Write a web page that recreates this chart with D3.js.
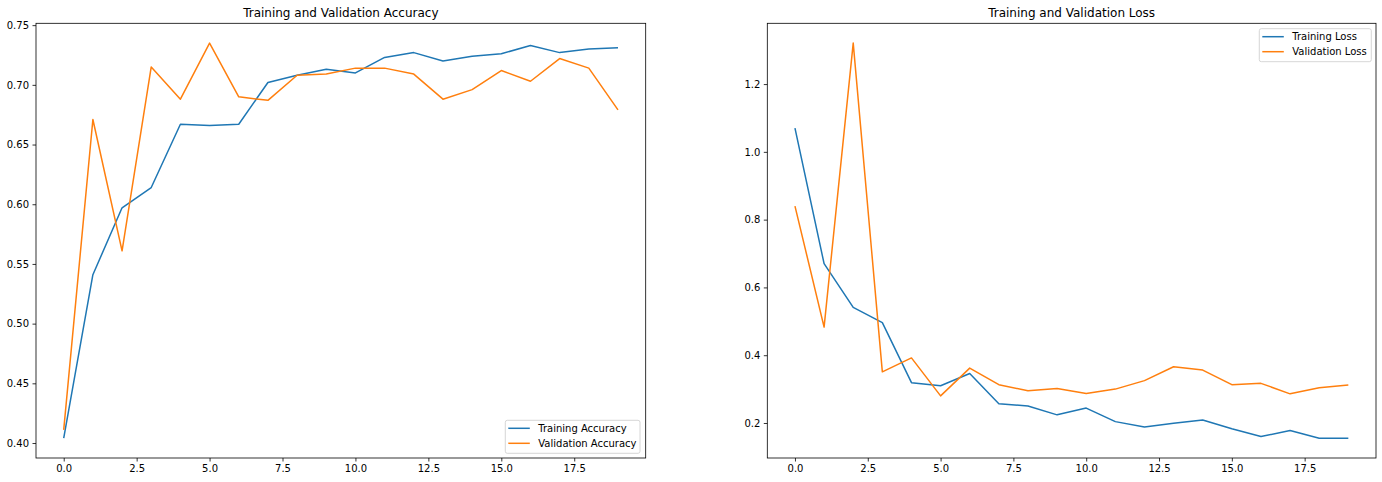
<!DOCTYPE html>
<html><head><meta charset="utf-8">
<script src="https://cdn.jsdelivr.net/npm/d3@7"></script>
<style>body{margin:0;background:#fff;}svg{display:block;font-family:"DejaVu Sans",sans-serif;}</style>
</head><body><svg id="c" width="1382" height="482"></svg>
<script>
const epochs = d3.range(20);
const trainAcc = [0.404,0.541,0.597,0.614,0.667,0.666,0.667,0.702,0.708,0.713,0.710,0.723,0.727,0.720,0.724,0.726,0.733,0.727,0.730,0.731];
const valAcc = [0.411,0.671,0.561,0.715,0.688,0.735,0.690,0.687,0.708,0.709,0.714,0.714,0.709,0.688,0.696,0.712,0.703,0.722,0.714,0.679];
const trainLoss = [1.070,0.670,0.541,0.496,0.319,0.310,0.346,0.257,0.250,0.224,0.244,0.204,0.188,0.199,0.209,0.183,0.160,0.178,0.155,0.155];
const valLoss = [0.840,0.483,1.321,0.351,0.392,0.280,0.362,0.313,0.295,0.302,0.287,0.300,0.325,0.366,0.356,0.313,0.317,0.286,0.304,0.312];
const xTicks = [0,2.5,5,7.5,10,12.5,15,17.5];
const accTicks = [0.40,0.45,0.50,0.55,0.60,0.65,0.70,0.75];
const lossTicks = [0.2,0.4,0.6,0.8,1.0,1.2];
const titles = ["Training and Validation Accuracy","Training and Validation Loss"];
const legendA = ["Training Accuracy","Validation Accuracy"];
const legendL = ["Training Loss","Validation Loss"];
const colors = ["#1f77b4","#ff7f0e"];

const svg = d3.select("#c");
const plotTop = 23.3, plotBottom = 458;

function panel(x0, x1, series, yTicks, yFmt, title, labels, legendPos) {
  const g = svg.append("g");
  const all = series.flat();
  const mn = d3.min(all), mx = d3.max(all), r = mx - mn;
  const x = d3.scaleLinear().domain([-0.95, 19.95]).range([x0, x1]);
  const y = d3.scaleLinear().domain([mn - 0.05*r, mx + 0.05*r]).range([plotBottom, plotTop]);
  const xa = g.append("g").attr("transform", `translate(0,${plotBottom})`)
    .call(d3.axisBottom(x).tickValues(xTicks).tickFormat(d3.format(".1f")).tickSize(3.5).tickPadding(3.5));
  const ya = g.append("g").attr("transform", `translate(${x0},0)`)
    .call(d3.axisLeft(y).tickValues(yTicks).tickFormat(yFmt).tickSize(3.5).tickPadding(3.5));
  [xa, ya].forEach(a => {
    a.select(".domain").remove();
    a.selectAll("line").attr("stroke", "#000").attr("stroke-width", 0.8);
    a.selectAll("text").attr("font-size", 10).attr("fill", "#000").attr("font-family", "DejaVu Sans");
  });
  const line = d3.line().x((d, i) => x(epochs[i])).y(d => y(d));
  series.forEach((s, k) => {
    g.append("path").datum(s).attr("d", line).attr("fill", "none")
      .attr("stroke", colors[k]).attr("stroke-width", 1.5).attr("stroke-linejoin", "round");
  });
  g.append("rect").attr("x", x0).attr("y", plotTop).attr("width", x1 - x0).attr("height", plotBottom - plotTop)
    .attr("fill", "none").attr("stroke", "#000").attr("stroke-width", 0.8);
  g.append("text").attr("x", (x0 + x1) / 2).attr("y", plotTop - 6).attr("text-anchor", "middle")
    .attr("font-size", 12).attr("fill", "#000").text(title);
  const lg = g.append("g");
  lg.append("rect").attr("x", legendPos.x).attr("y", legendPos.y).attr("width", legendPos.w).attr("height", 33)
    .attr("rx", 2).attr("fill", "#fff").attr("fill-opacity", 0.8).attr("stroke", "#ccc").attr("stroke-width", 0.8);
  labels.forEach((t, k) => {
    const yy = legendPos.y + 8 + k * 15;
    lg.append("line").attr("x1", legendPos.x + 3).attr("x2", legendPos.x + 24.5).attr("y1", yy).attr("y2", yy)
      .attr("stroke", colors[k]).attr("stroke-width", 1.5);
    lg.append("text").attr("x", legendPos.x + 33).attr("y", yy + 3.5).attr("font-size", 10).attr("fill", "#000").text(t);
  });
}

panel(36, 645.7, [trainAcc, valAcc], accTicks, d3.format(".2f"), titles[0], legendA, {x: 505.3, y: 420.3, w: 134.7});
panel(767.3, 1376, [trainLoss, valLoss], lossTicks, d3.format(".1f"), titles[1], legendL, {x: 1259.3, y: 28.7, w: 112});
</script></body></html>
